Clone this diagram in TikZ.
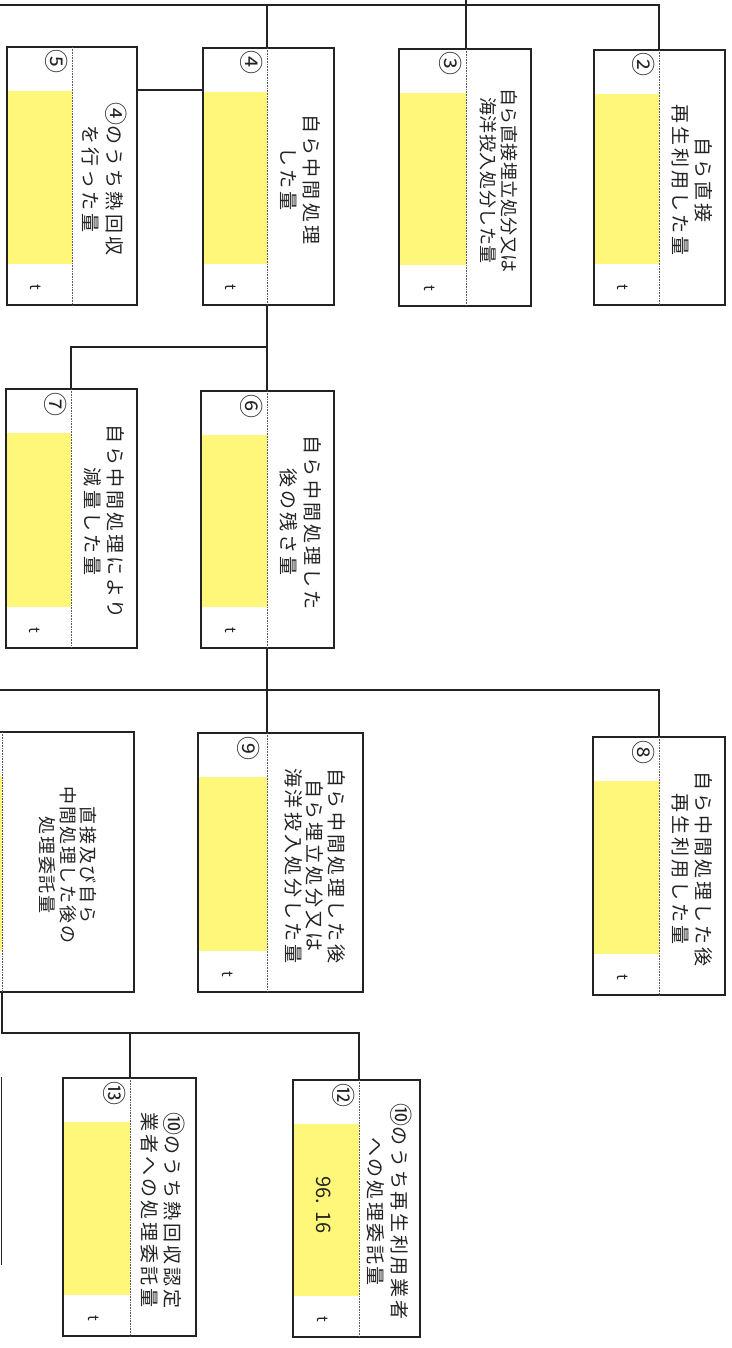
\documentclass[tikz,border=0pt]{standalone}
\usepackage{fontspec}
\setmainfont{Noto Sans CJK JP}
\definecolor{yfill}{RGB}{255,247,122}
\definecolor{ink}{RGB}{35,35,35}
\newcommand\jpfont[3]{\fontsize{#1}{#2}\selectfont\addfontfeature{LetterSpace=#3}}
\newcommand\inlinecirc[1]{{\fontsize{23}{23}\selectfont #1}}
\tikzset{
 boxframe/.style={draw=ink, line width=1.6pt, inner sep=0pt, outer sep=0pt, rectangle},
 conn/.style={draw=ink, line width=1.4pt},
 dotsep/.style={draw=ink!75, line width=0.9pt, dash pattern=on 0.8pt off 0.8pt},
 boxtext/.style={rotate=-90, align=center, text=ink, inner sep=0pt, font=\jpfont{19}{23.5}{15.8}},
 cnum/.style={rotate=-90, text=ink, inner sep=0pt, font=\fontsize{24}{24}\selectfont},
 unittext/.style={rotate=-90, text=ink, inner sep=0pt, font=\fontsize{15}{15}\selectfont},
 valtext/.style={rotate=-90, text=ink, inner sep=0pt, font=\fontsize{20}{20}\selectfont},
}
% name, left, top, right, bottom, dotted x, text, text options
\newcommand\formbox[8]{%
 \fill[yfill] (#2,{#3+44}) rectangle (#6,{#5-41});
 \node[boxframe, minimum width={(#4-#2)*1pt}, minimum height={(#5-#3)*1pt}] (#1) at ({(#2+#4)/2},{(#3+#5)/2}) {};
 \draw[dotsep] (#6,#3) -- (#6,#5);
 \coordinate (#1t) at (#6,#3);
 \coordinate (#1b) at (#6,#5);
 \node[boxtext,#8] (#1l) at ({(#6+#4)/2},{(#3+#5)/2+3}) {#7};
}
% name, top, bottom, dotted x, number
\newcommand\boxmarks[5]{%
 \node[cnum] (#1n) at ({#4-15},{#2+15}) {#5};
 \node[unittext] (#1u) at ({#4-36},{#3-18}) {t};
}
\begin{document}
\begin{tikzpicture}[x=1pt,y=-1pt]
\fill[white] (0,0) rectangle (731,1348);
\useasboundingbox (0,0) rectangle (731,1348);
\clip (0,0) rectangle (731,1348);

% row 1
\formbox{b5}{7}{47}{137}{305}{72}{\inlinecirc{④}のうち熱回収\\を行った量}{}
\boxmarks{b5}{47}{305}{72}{⑤}
\formbox{b4}{203}{48}{334}{305}{267}{自ら中間処理\\した量}{}
\boxmarks{b4}{48}{305}{267}{④}
\formbox{b3}{399}{49}{531}{306}{466}{自ら直接埋立処分又は\\海洋投入処分した量}{font=\jpfont{18}{21}{3}}
\boxmarks{b3}{49}{306}{466}{③}
\formbox{b2}{594}{50}{725}{305}{659}{自ら直接\\再生利用した量}{}
\boxmarks{b2}{50}{305}{659}{②}
% row 2
\formbox{b7}{6}{389}{137}{648}{71}{自ら中間処理により\\減量した量}{}
\boxmarks{b7}{389}{648}{71}{⑦}
\formbox{b6}{201}{391}{334}{648}{267}{自ら中間処理した\\後の残さ量}{}
\boxmarks{b6}{391}{648}{267}{⑥}
% row 3
\formbox{b10}{-63}{732}{134}{992}{2}{直接及び自ら\\中間処理した後の\\処理委託量}{font=\jpfont{18}{20.5}{11}}
\formbox{b9}{198}{733}{363}{992}{267}{自ら中間処理した後\\自ら埋立処分又は\\海洋投入処分した量}{font=\jpfont{19}{21.5}{15.8}}
\boxmarks{b9}{733}{992}{264}{⑨}
\formbox{b8}{593}{737}{725}{995}{659}{自ら中間処理した後\\再生利用した量}{}
\boxmarks{b8}{737}{995}{659}{⑧}
% row 4
\formbox{b13}{63}{1078}{196}{1336}{130}{\inlinecirc{⑩}のうち熱回収認定\\業者への処理委託量}{}
\boxmarks{b13}{1078}{1336}{130}{⑬}
\formbox{b12}{293}{1080}{420}{1337}{359}{\inlinecirc{⑩}のうち再生利用業者\\への処理委託量}{font=\jpfont{19}{23.5}{14}}
\boxmarks{b12}{1080}{1337}{359}{⑫}
\node[valtext] (v12) at (324,1205) {96.\,\,16};

% box 11 (only its right edge is visible)
\coordinate (b11a) at (1.5,1077);
\coordinate (b11z) at (1.5,1265);
\draw[conn, line width=1.6pt] (b11a) -- (b11z);

% connectors
\coordinate (top0) at (0,5);
\coordinate (topin) at (466,0);
\draw[conn] (top0) -| (b2t);
\draw[conn] (topin) -- (b3t);
\draw[conn] (b4t |- top0) -- (b4t);
\coordinate (j54) at (0,90);
\draw[conn] (b5.east |- j54) -- (b4.west |- j54);
\draw[conn] (b4b) -- (b6t);
\coordinate (j7) at (0,347);
\draw[conn] (b4b |- j7) -| (b7t);
\draw[conn] (b6b) -- (b9t);
\coordinate (j8) at (0,690);
\draw[conn] (j8) -| (b8t);
\coordinate (j12) at (0,1033);
\draw[conn] (b10b) |- (b12t |- j12) -- (b12t);
\draw[conn] (b13t |- j12) -- (b13t);
\end{tikzpicture}
\end{document}
